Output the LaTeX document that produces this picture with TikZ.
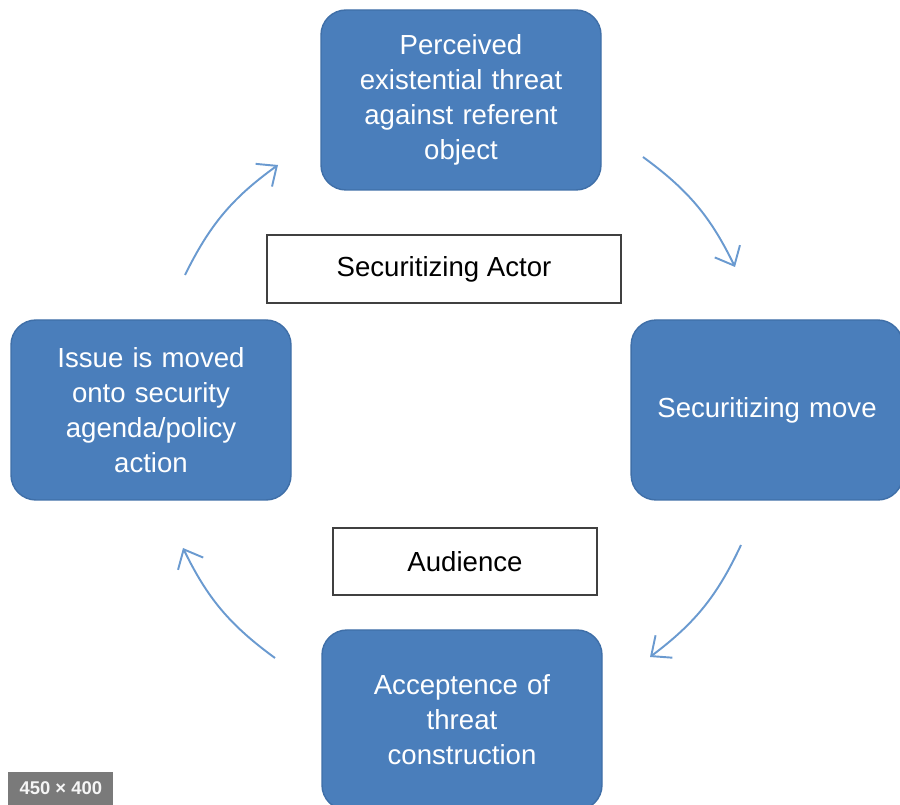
\documentclass[tikz,border=0pt]{standalone}
\usepackage{fontspec}
\setmainfont{Liberation Sans}
\usetikzlibrary{arrows.meta}

\definecolor{boxblue}{HTML}{4A7EBB}
\definecolor{boxedge}{HTML}{3F6FA8}
\definecolor{arrowblue}{HTML}{6A9AD0}
\definecolor{badgegray}{HTML}{7A7A7A}

\begin{document}
\begin{tikzpicture}[>={Straight Barb[length=3.2mm,width=5.6mm]},
    stage/.style={draw=boxedge, line width=0.8pt, fill=boxblue, rounded corners=0.5cm,
      minimum width=5.6cm, minimum height=3.6cm, text width=5.2cm, align=center,
      text=white, font=\fontsize{15.7}{20}\selectfont},
    role/.style={draw=black!75, line width=1.1pt, fill=white, minimum height=1.35cm,
      font=\fontsize{15.7}{18}\selectfont},
    cycle/.style={->, arrowblue, line width=1.1pt, bend left=14}]
  \useasboundingbox (0,0) rectangle (18,16.1);

  % the four stages
  \node[stage] (perceived) at (9.22,14.1) {Perceived\\existential threat\\against referent\\object};
  \node[stage, minimum width=5.4cm] (move) at (15.34,7.9) {Securitizing move};
  \node[stage] (accept) at (9.24,1.7) {Acceptence of\\threat\\construction};
  \node[stage] (issue) at (3.02,7.9) {Issue is moved\\onto security\\agenda/policy\\action};

  % actor and audience
  \node[role, minimum width=7.08cm] (actor) at (8.88,10.72) {Securitizing Actor};
  \node[role, minimum width=5.28cm] (audience) at (9.3,4.87) {Audience};

  % arrow ends
  \coordinate (c1) at (3.7,10.6);
  \coordinate (c2) at (5.56,12.8);
  \coordinate (c3) at (12.86,12.96);
  \coordinate (c4) at (14.7,10.76);
  \coordinate (c5) at (14.82,5.2);
  \coordinate (c6) at (13.0,2.96);
  \coordinate (c7) at (5.5,2.94);
  \coordinate (c8) at (3.66,5.14);

  % the cycle
  \draw[cycle] (c1) to (c2);
  \draw[cycle] (c3) to (c4);
  \draw[cycle] (c5) to (c6);
  \draw[cycle] (c7) to (c8);

  % size badge
  \node[fill=badgegray, text=white!92!gray, minimum width=2.1cm, minimum height=0.66cm,
    anchor=south west, inner sep=0pt, font=\fontsize{10.5}{12}\selectfont\bfseries]
    (badge) at (0.16,0) {450 × 400};
\end{tikzpicture}
\end{document}
